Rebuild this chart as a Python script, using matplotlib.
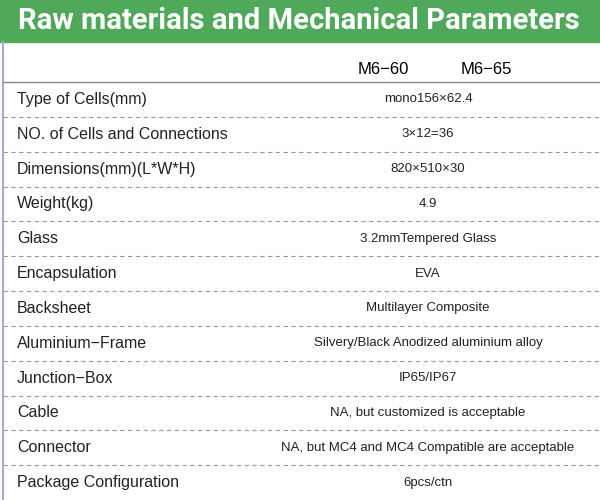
import matplotlib
matplotlib.use("Agg")
import matplotlib.pyplot as plt

title = "Raw materials and Mechanical Parameters"
models = ["M6\u221260", "M6\u221265"]
params = ["Type of Cells(mm)", "NO. of Cells and Connections", "Dimensions(mm)(L*W*H)",
          "Weight(kg)", "Glass", "Encapsulation", "Backsheet", "Aluminium\u2212Frame",
          "Junction\u2212Box", "Cable", "Connector", "Package Configuration"]
values = ["mono156\u00d762.4", "3\u00d712=36", "820\u00d7510\u00d730", "4.9",
          "3.2mmTempered Glass", "EVA", "Multilayer Composite",
          "Silvery/Black Anodized aluminium alloy", "IP65/IP67",
          "NA, but customized is acceptable",
          "NA, but MC4 and MC4 Compatible are acceptable", "6pcs/ctn"]

fig = plt.figure(figsize=(6, 5), dpi=100)
ax = fig.add_axes([0, 0, 1, 1])
ax.set_xlim(0, 600); ax.set_ylim(500, 0); ax.axis("off")
font = "Liberation Sans"
ax.add_patch(plt.Rectangle((0, 0), 600, 42, color="#50a95a"))
ax.text(18, 21, title, color="white", fontsize=21, fontweight="bold", family="Roboto",
        va="center", ha="left")
ax.plot([3, 3], [42, 500], color="#a9a7d8", lw=1.5)
ax.text(383, 70, models[0], fontsize=12, family=font, ha="center", va="center")
ax.text(486, 70, models[1], fontsize=12, family=font, ha="center", va="center")
top = 82
h = (500 - top) / len(params)
ax.plot([3, 600], [top, top], color="#888888", lw=1)
for i, (p, v) in enumerate(zip(params, values)):
    yc = top + h * (i + 0.5)
    ax.text(17, yc, p, fontsize=11.5, family=font, va="center", ha="left", color="#222222")
    ax.text(428, yc, v, fontsize=9.5, family=font, va="center", ha="center", color="#222222")
    if i < len(params) - 1:
        yl = top + h * (i + 1)
        ax.plot([3, 600], [yl, yl], color="#999999", lw=0.8, ls=(0, (4, 3)))
fig.savefig("out.png", dpi=100)
